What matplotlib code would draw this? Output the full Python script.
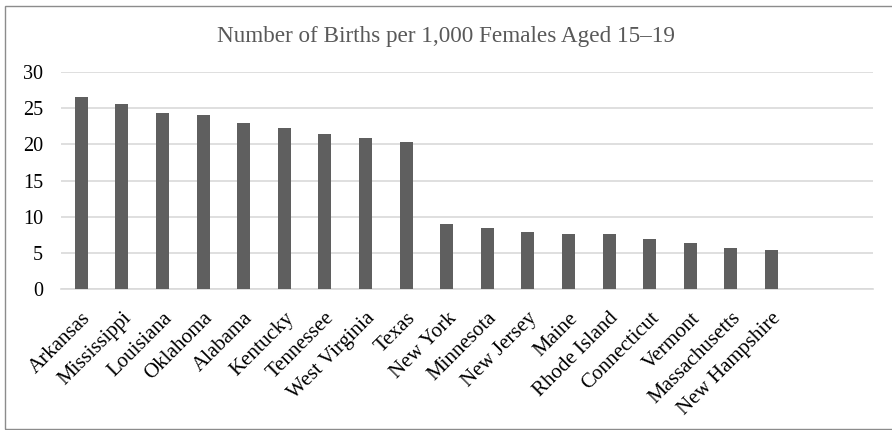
import matplotlib
matplotlib.use("Agg")
import matplotlib.pyplot as plt
from matplotlib.patches import Rectangle

plt.rcParams['font.family'] = ['Liberation Serif', 'DejaVu Serif']

states = ["Arkansas", "Mississippi", "Louisiana", "Oklahoma", "Alabama", "Kentucky",
          "Tennessee", "West Virginia", "Texas", "New York", "Minnesota", "New Jersey",
          "Maine", "Rhode Island", "Connecticut", "Vermont", "Massachusetts", "New Hampshire"]
births = [26.5, 25.6, 24.4, 24.1, 22.9, 22.3, 21.5, 20.9, 20.3,
          9.0, 8.4, 7.9, 7.7, 7.7, 7.0, 6.4, 5.7, 5.4]
n_slots = 20  # two empty category slots at the right end

fig = plt.figure(figsize=(8.92, 4.30), dpi=100)
ax = fig.add_axes([0.0684, 0.3272, 0.9103, 0.5054])

x = list(range(len(states)))
ax.bar(x, births, width=0.32, color='#5f5f5f', zorder=3)

ax.set_xlim(-0.5, n_slots - 0.5)
ax.set_ylim(0, 30)
ax.set_yticks(range(0, 31, 5))
ax.yaxis.grid(True, color='#d9d9d9', linewidth=1.2, zorder=0)
ax.tick_params(axis='both', length=0, labelsize=14.5, colors='black')
ax.tick_params(axis='y', pad=13)
ax.set_xticks(x)
ax.set_xticklabels(states, rotation=45, ha='right', va='top', rotation_mode='anchor',
                   fontsize=15)
ax.tick_params(axis='x', pad=14)
for s in ['top', 'right', 'left']:
    ax.spines[s].set_visible(False)
ax.spines['bottom'].set_color('#d9d9d9')
ax.spines['bottom'].set_linewidth(1.2)

fig.text(0.5, 0.914, "Number of Births per 1,000 Females Aged 15\u201319",
         ha='center', va='center', fontsize=16.7, color='#595959')

fig.patches.append(Rectangle((5 / 892, 1 / 430), 900 / 892, 423 / 430,
                             transform=fig.transFigure, fill=False,
                             edgecolor='#8c8c8c', linewidth=1))

fig.savefig("out.png", dpi=100)
